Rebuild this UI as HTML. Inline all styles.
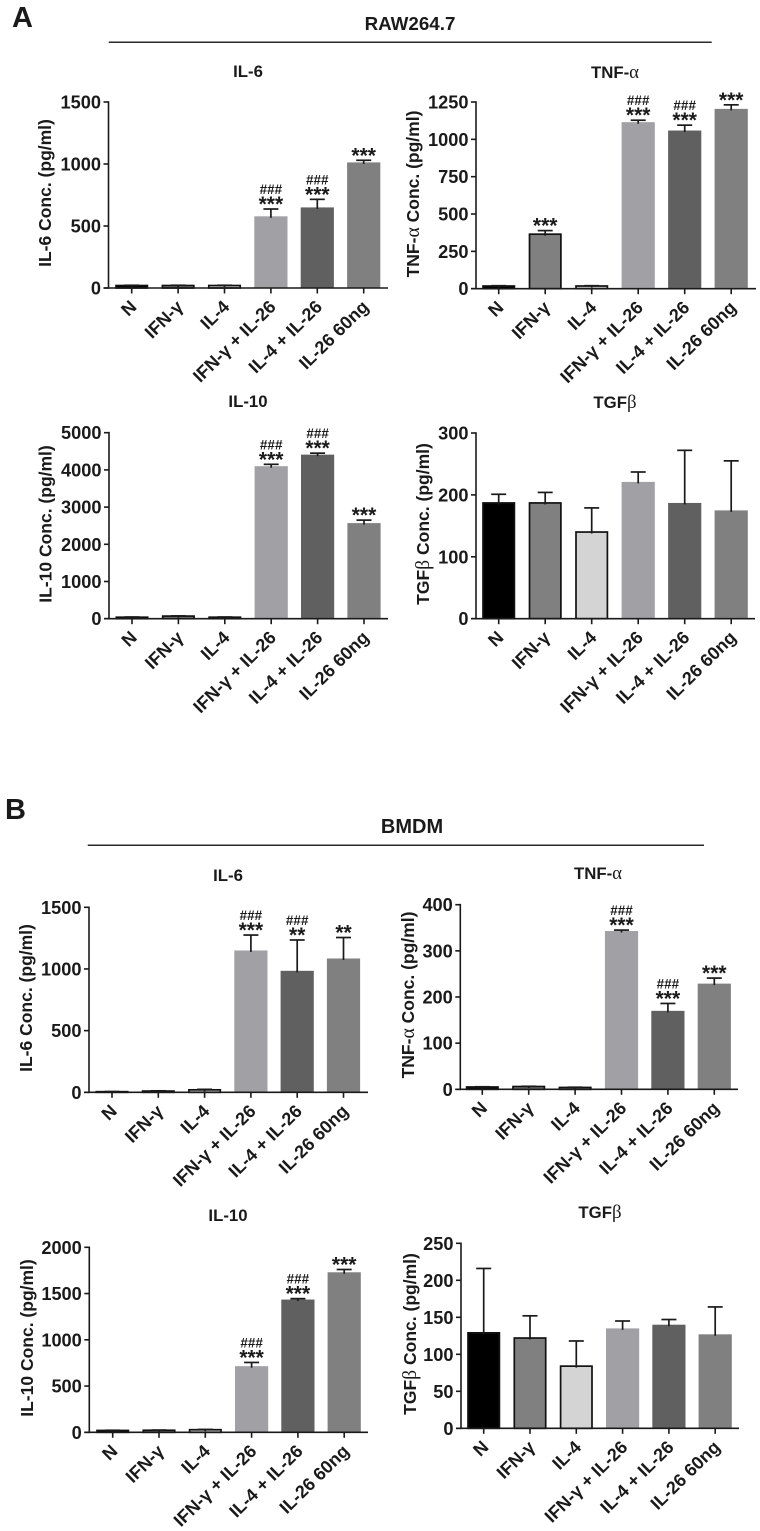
<!DOCTYPE html>
<html lang="en">
<head>
<meta charset="utf-8">
<title>Cytokine concentrations in RAW264.7 and BMDM cells</title>
<style>
html,body{margin:0;padding:0;background:#fff;}
#figure{display:block;width:760px;height:1531px;filter:blur(0.35px);font-family:"Liberation Sans",Arial,sans-serif;}
text{fill:#1a1a1a;font-weight:bold;}
.greek{font-family:"Liberation Serif",serif;font-weight:normal;font-size:1.12em;}
</style>
</head>
<body>
<svg id="figure" xmlns="http://www.w3.org/2000/svg" width="760" height="1531" viewBox="0 0 760 1531">
  <text x="12" y="27" font-size="29">A</text>
  <text x="410" y="30" font-size="18.8" text-anchor="middle">RAW264.7</text>
  <line x1="108.7" x2="711.7" y1="42.3" y2="42.3" stroke="#2a2a2a" stroke-width="1.5"/>
  <text x="5" y="819" font-size="29">B</text>
  <text x="412" y="833" font-size="20" text-anchor="middle">BMDM</text>
  <line x1="87.7" x2="704" y1="845.3" y2="845.3" stroke="#2a2a2a" stroke-width="1.5"/>
</svg>
<script>
const categories = ['N', 'IFN-γ', 'IL-4', 'IFN-γ + IL-26', 'IL-4 + IL-26', 'IL-26 60ng'];

const rawIl6Values = [20, 20, 20, 578, 650, 1013];
const rawIl6Upper = [22, 22, 22, 637, 715, 1030];
const rawIl6Ticks = [0, 500, 1000, 1500];
const rawIl6Stars = ['', '', '', '***', '***', '***'];
const rawIl6Hashes = ['', '', '', '###', '###', ''];

const rawTnfValues = [18, 365, 18, 1115, 1059, 1204];
const rawTnfUpper = [20, 389, 20, 1128, 1095, 1231];
const rawTnfTicks = [0, 250, 500, 750, 1000, 1250];
const rawTnfStars = ['', '***', '', '***', '***', '***'];
const rawTnfHashes = ['', '', '', '###', '###', ''];

const rawIl10Values = [40, 70, 40, 4100, 4410, 2570];
const rawIl10Upper = [45, 75, 45, 4150, 4450, 2650];
const rawIl10Ticks = [0, 1000, 2000, 3000, 4000, 5000];
const rawIl10Stars = ['', '', '', '***', '***', '***'];
const rawIl10Hashes = ['', '', '', '###', '###', ''];

const rawTgfValues = [187, 187, 140, 221, 187, 175];
const rawTgfUpper = [201, 204, 179, 237, 272, 255];
const rawTgfTicks = [0, 100, 200, 300];
const rawTgfStars = ['', '', '', '', '', ''];
const rawTgfHashes = ['', '', '', '', '', ''];

const bmdmIl6Values = [5, 10, 20, 1150, 985, 1085];
const bmdmIl6Upper = [6, 12, 24, 1275, 1235, 1255];
const bmdmIl6Ticks = [0, 500, 1000, 1500];
const bmdmIl6Stars = ['', '', '', '***', '**', '**'];
const bmdmIl6Hashes = ['', '', '', '###', '###', ''];

const bmdmTnfValues = [5, 6, 4, 343, 170, 229];
const bmdmTnfUpper = [5.5, 6.5, 4.5, 345, 186, 241];
const bmdmTnfTicks = [0, 100, 200, 300, 400];
const bmdmTnfStars = ['', '', '', '***', '***', '***'];
const bmdmTnfHashes = ['', '', '', '###', '###', ''];

const bmdmIl10Values = [20, 22, 28, 715, 1435, 1730];
const bmdmIl10Upper = [22, 24, 31, 755, 1445, 1760];
const bmdmIl10Ticks = [0, 500, 1000, 1500, 2000];
const bmdmIl10Stars = ['', '', '', '***', '***', '***'];
const bmdmIl10Hashes = ['', '', '', '###', '###', ''];

const bmdmTgfValues = [129, 122, 84, 135, 140, 127];
const bmdmTgfUpper = [216, 152, 118, 145, 147, 164];
const bmdmTgfTicks = [0, 50, 100, 150, 200, 250];
const bmdmTgfStars = ['', '', '', '', '', ''];
const bmdmTgfHashes = ['', '', '', '', '', ''];

const SVG_NS = 'http://www.w3.org/2000/svg';
const figure = document.getElementById('figure');
const barFills = ['#000000', '#808080', '#d4d4d4', '#a1a1a5', '#606060', '#808080'];
const barOutlined = [true, true, true, false, false, false];

function make(parent, tag, props, content) {
  const el = document.createElementNS(SVG_NS, tag);
  for (const key in props) el.setAttribute(key, props[key]);
  if (content !== undefined) el.textContent = content;
  parent.appendChild(el);
  return el;
}

function addLabelWithGreek(textEl, label) {
  const parts = label.split(/([αβ])/);
  parts.forEach(function (part) {
    if (!part) return;
    const span = make(textEl, 'tspan', part === 'α' || part === 'β' ? { class: 'greek' } : {}, part);
    
    
  });
}

function drawPanel(id, title, yTitle, values, upper, ticks, stars, hashes, box) {
  const g = make(figure, 'g', {});
  
  

  const maxTick = ticks[ticks.length - 1];
  const y = function (v) { return box.bottom - (v / maxTick) * (box.bottom - box.top); };
  const x = function (i) { return box.first + i * box.step; };

  const titleEl = make(g, 'text', { x: box.titleX, y: box.titleY, 'font-size': 16.8, 'text-anchor': 'middle' });
  
  
  addLabelWithGreek(titleEl, title);

  const yTitleEl = make(g, 'text', {
    transform: 'translate(' + box.yTitleX + ',' + box.yTitleY + ') rotate(-90)',
    'font-size': 17.5, 'text-anchor': 'middle'
  });
  
  
  addLabelWithGreek(yTitleEl, yTitle);

  values.forEach(function (value, i) {
    const half = barOutlined[i] ? 15.7 : 16.6;
    const bar = make(g, 'rect', {
      x: x(i) - half, y: y(value), width: half * 2, height: box.bottom - y(value),
      fill: barFills[i],
      stroke: barOutlined[i] ? '#111' : 'none',
      'stroke-width': barOutlined[i] ? 1.7 : 0
    });
    
    

    const stem = make(g, 'line', { x1: x(i), x2: x(i), y1: y(value) + 1.5, y2: y(upper[i]), stroke: '#1a1a1a', 'stroke-width': 1.7 });
    
    

    const cap = make(g, 'line', { x1: x(i) - 7.5, x2: x(i) + 7.5, y1: y(upper[i]), y2: y(upper[i]), stroke: '#1a1a1a', 'stroke-width': 1.7 });
    
    

    if (stars[i]) {
      const starEl = make(g, 'text', { x: x(i), y: y(upper[i]) + 2, 'font-size': 21, 'text-anchor': 'middle' }, stars[i]);
      
      
    }
    if (hashes[i]) {
      const hashEl = make(g, 'text', { x: x(i), y: y(upper[i]) - 15, 'font-size': 13.5, 'text-anchor': 'middle' }, hashes[i]);
      
      
    }

    const tick = make(g, 'line', { x1: x(i), x2: x(i), y1: box.bottom, y2: box.bottom + 5.5, stroke: '#1a1a1a', 'stroke-width': 1.6 });
    
    

    const label = make(g, 'text', {
      transform: 'translate(' + (x(i) + 6) + ',' + (box.bottom + 20) + ') rotate(-44.5)',
      'font-size': 18, 'text-anchor': 'end'
    }, categories[i]);
    
    
  });

  const yAxis = make(g, 'line', { x1: box.axis, x2: box.axis, y1: box.top - 0.8, y2: box.bottom + 0.8, stroke: '#1a1a1a', 'stroke-width': 1.6 });
  
  

  const xAxis = make(g, 'line', { x1: box.axis - 5, x2: box.end, y1: box.bottom, y2: box.bottom, stroke: '#1a1a1a', 'stroke-width': 1.6 });
  
  

  ticks.forEach(function (tickValue) {
    const mark = make(g, 'line', { x1: box.axis - 5, x2: box.axis, y1: y(tickValue), y2: y(tickValue), stroke: '#1a1a1a', 'stroke-width': 1.6 });
    
    

    const tickLabel = make(g, 'text', { x: box.axis - 7.5, y: y(tickValue) + 6.5, 'font-size': 18.2, 'text-anchor': 'end' }, tickValue);
    
    
  });
}

drawPanel('raw-il6', 'IL-6', 'IL-6 Conc. (pg/ml)', rawIl6Values, rawIl6Upper, rawIl6Ticks, rawIl6Stars, rawIl6Hashes,
  { axis: 108.5, top: 102, bottom: 288, first: 131.7, step: 46.4, end: 388, titleX: 248, titleY: 77, yTitleX: 51, yTitleY: 193 });
drawPanel('raw-tnf', 'TNF-α', 'TNF-α Conc. (pg/ml)', rawTnfValues, rawTnfUpper, rawTnfTicks, rawTnfStars, rawTnfHashes,
  { axis: 476, top: 102, bottom: 288.7, first: 498.7, step: 46.5, end: 756, titleX: 615, titleY: 78, yTitleX: 419, yTitleY: 194 });
drawPanel('raw-il10', 'IL-10', 'IL-10 Conc. (pg/ml)', rawIl10Values, rawIl10Upper, rawIl10Ticks, rawIl10Stars, rawIl10Hashes,
  { axis: 109, top: 432.7, bottom: 618.7, first: 132, step: 46.4, end: 388, titleX: 248, titleY: 407, yTitleX: 51.5, yTitleY: 524 });
drawPanel('raw-tgf', 'TGFβ', 'TGFβ Conc. (pg/ml)', rawTgfValues, rawTgfUpper, rawTgfTicks, rawTgfStars, rawTgfHashes,
  { axis: 476, top: 433, bottom: 618.7, first: 498.7, step: 46.5, end: 755, titleX: 615, titleY: 408, yTitleX: 429, yTitleY: 524 });
drawPanel('bmdm-il6', 'IL-6', 'IL-6 Conc. (pg/ml)', bmdmIl6Values, bmdmIl6Upper, bmdmIl6Ticks, bmdmIl6Stars, bmdmIl6Hashes,
  { axis: 89, top: 907.3, bottom: 1092.3, first: 112, step: 46.3, end: 368, titleX: 228, titleY: 881, yTitleX: 32, yTitleY: 998 });
drawPanel('bmdm-tnf', 'TNF-α', 'TNF-α Conc. (pg/ml)', bmdmTnfValues, bmdmTnfUpper, bmdmTnfTicks, bmdmTnfStars, bmdmTnfHashes,
  { axis: 460.3, top: 904.7, bottom: 1089.3, first: 482.3, step: 46.4, end: 738, titleX: 598, titleY: 879, yTitleX: 414, yTitleY: 995 });
drawPanel('bmdm-il10', 'IL-10', 'IL-10 Conc. (pg/ml)', bmdmIl10Values, bmdmIl10Upper, bmdmIl10Ticks, bmdmIl10Stars, bmdmIl10Hashes,
  { axis: 89.3, top: 1247.3, bottom: 1432.3, first: 112.7, step: 46.3, end: 368, titleX: 228, titleY: 1221, yTitleX: 33, yTitleY: 1338 });
drawPanel('bmdm-tgf', 'TGFβ', 'TGFβ Conc. (pg/ml)', bmdmTgfValues, bmdmTgfUpper, bmdmTgfTicks, bmdmTgfStars, bmdmTgfHashes,
  { axis: 461, top: 1243.3, bottom: 1428.3, first: 483.7, step: 46.3, end: 739, titleX: 600, titleY: 1218, yTitleX: 416, yTitleY: 1334 });
</script>
</body>
</html>
